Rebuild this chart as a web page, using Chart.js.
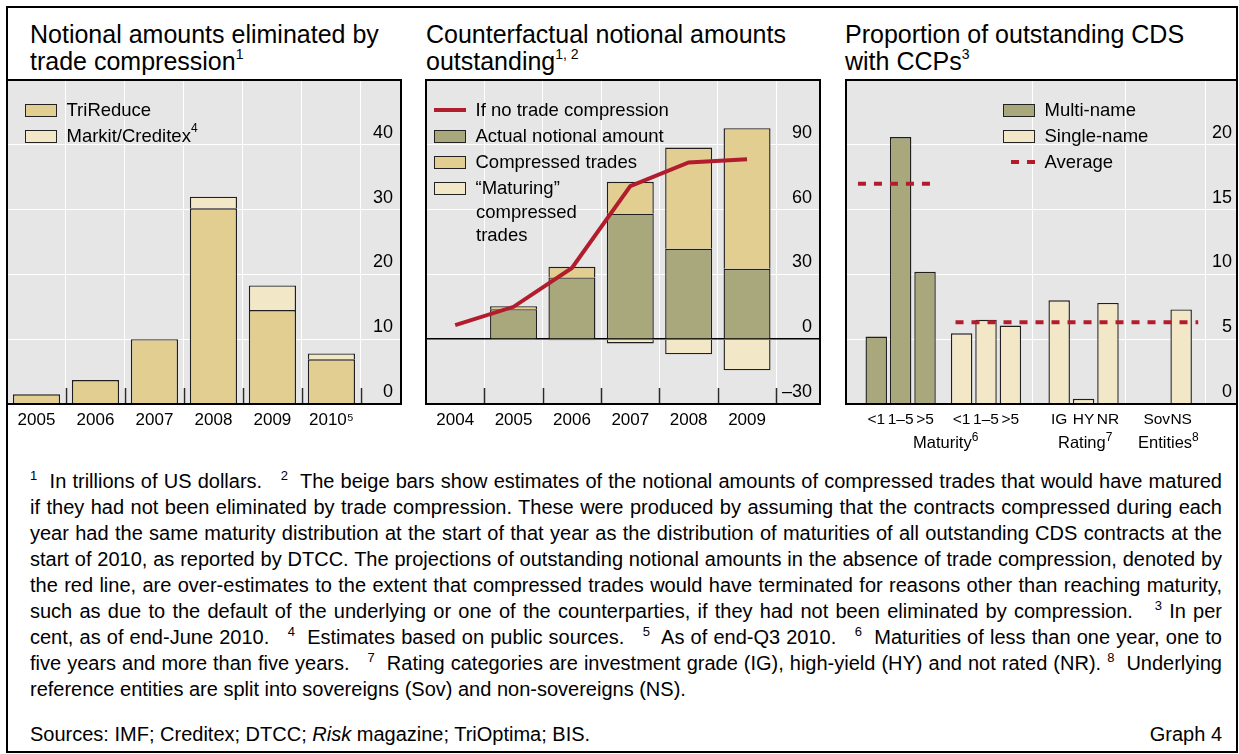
<!DOCTYPE html>
<html lang="en">
<head>
<meta charset="utf-8">
<title>Graph 4</title>
<script src="https://cdn.jsdelivr.net/npm/chart.js@4.4.1/dist/chart.umd.min.js"></script>
<style>
  html, body { margin: 0; padding: 0; background: #fff; }
  body { position: relative; width: 1239px; height: 754px; overflow: hidden;
         font-family: "Liberation Sans", Arial, Helvetica, sans-serif; color: #000; }
  .abs { position: absolute; }
  .frame { left: 6px; top: 6px; width: 1232px; height: 747px; border: 2px solid #000; box-sizing: border-box; }
  .title { top: 21px; font-size: 25px; line-height: 27px; white-space: nowrap; }
  .tsup { position: relative; top: -11px; font-size: 14px; line-height: 0; }
  canvas { position: absolute; top: 80px; }
  .box { top: 79px; height: 326px; border: 2px solid #000; box-sizing: border-box; pointer-events: none; }
  .leg { height: 22px; line-height: 22px; font-size: 18.5px; white-space: nowrap; display: flex; align-items: center; }
  .sw { flex: none; width: 32px; height: 13px; border: 1.5px solid #222; box-sizing: border-box; margin-right: 9.5px; }
  .redline { flex: none; width: 32px; height: 4px; background: #b21d2e; margin-right: 9.5px; }
  .dash { flex: none; width: 32px; height: 4px; margin-right: 9.5px; position: relative; }
  .dash i { position: absolute; top: 0; width: 8px; height: 4px; background: #b21d2e; }
  .lsup { position: relative; top: -8px; font-size: 12px; line-height: 0; }
  .glab { top: 432px; font-size: 16.5px; line-height: 20px; white-space: nowrap; }
  .gsup { position: relative; top: -7px; font-size: 12px; line-height: 0; }
  .notes { left: 30px; top: 468px; width: 1192px; font-size: 20px; line-height: 26px; }
  .notes div { text-align: justify; text-align-last: justify; white-space: nowrap; }
  .notes div.last { text-align-last: left; }
  .fsup { position: relative; top: -8px; font-size: 13px; line-height: 0; }
  .src { left: 30px; top: 721px; width: 1192px; font-size: 20px; line-height: 26px; white-space: nowrap; }
  .src span.r { position: absolute; right: 0; top: 0; }
</style>
</head>
<body>
<div class="abs frame"></div>

<div class="abs title" style="left:30px">Notional amounts eliminated by<br>trade compression<span class="tsup">1</span></div>
<div class="abs title" style="left:426px">Counterfactual notional amounts<br>outstanding<span class="tsup">1, 2</span></div>
<div class="abs title" style="left:845px">Proportion of outstanding CDS<br>with CCPs<span class="tsup">3</span></div>

<canvas id="compression" width="394" height="354" style="left:7px"></canvas>
<canvas id="outstanding" width="394" height="354" style="left:426px"></canvas>
<canvas id="ccp" width="391" height="354" style="left:846px"></canvas>

<div class="abs box" style="left:6px;width:396px"></div>
<div class="abs box" style="left:425px;width:396px"></div>
<div class="abs box" style="left:845px;width:393px"></div>

<!-- legends -->
<div class="abs leg" style="left:25px;top:99px"><span class="sw" style="background:#e3ce92"></span>TriReduce</div>
<div class="abs leg" style="left:25px;top:125px"><span class="sw" style="background:#f2e8c7"></span>Markit/Creditex<span class="lsup">4</span></div>

<div class="abs leg" style="left:434px;top:99px"><span class="redline"></span>If no trade compression</div>
<div class="abs leg" style="left:434px;top:125px"><span class="sw" style="background:#a9a87c"></span>Actual notional amount</div>
<div class="abs leg" style="left:434px;top:151px"><span class="sw" style="background:#e3ce92"></span>Compressed trades</div>
<div class="abs leg" style="left:434px;top:177px"><span class="sw" style="background:#f2e8c7"></span>“Maturing”</div>
<div class="abs leg" style="left:476px;top:201px">compressed</div>
<div class="abs leg" style="left:476px;top:224px">trades</div>

<div class="abs leg" style="left:1003px;top:99px"><span class="sw" style="background:#a9a87c"></span>Multi-name</div>
<div class="abs leg" style="left:1003px;top:125px"><span class="sw" style="background:#f2e8c7"></span>Single-name</div>
<div class="abs leg" style="left:1003px;top:151px"><span class="dash"><i style="left:8px"></i><i style="left:24px"></i></span>Average</div>

<!-- group captions under the CCP chart -->
<div class="abs glab" style="left:913px">Maturity<span class="gsup">6</span></div>
<div class="abs glab" style="left:1058px">Rating<span class="gsup">7</span></div>
<div class="abs glab" style="left:1138px">Entities<span class="gsup">8</span></div>

<div class="abs notes">
  <div><span class="fsup">1</span>&nbsp; In trillions of US dollars.&nbsp;&nbsp; <span class="fsup">2</span>&nbsp; The beige bars show estimates of the notional amounts of compressed trades that would have matured</div>
  <div>if they had not been eliminated by trade compression. These were produced by assuming that the contracts compressed during each</div>
  <div>year had the same maturity distribution at the start of that year as the distribution of maturities of all outstanding CDS contracts at the</div>
  <div>start of 2010, as reported by DTCC. The projections of outstanding notional amounts in the absence of trade compression, denoted by</div>
  <div>the red line, are over-estimates to the extent that compressed trades would have terminated for reasons other than reaching maturity,</div>
  <div>such as due to the default of the underlying or one of the counterparties, if they had not been eliminated by compression.&nbsp;&nbsp; <span class="fsup">3</span> In per</div>
  <div>cent, as of end-June 2010.&nbsp;&nbsp; <span class="fsup">4</span>&nbsp; Estimates based on public sources.&nbsp;&nbsp; <span class="fsup">5</span>&nbsp; As of end-Q3 2010.&nbsp;&nbsp; <span class="fsup">6</span>&nbsp; Maturities of less than one year, one to</div>
  <div>five years and more than five years.&nbsp;&nbsp; <span class="fsup">7</span>&nbsp; Rating categories are investment grade (IG), high-yield (HY) and not rated (NR). <span class="fsup">8</span>&nbsp; Underlying</div>
  <div class="last">reference entities are split into sovereigns (Sov) and non-sovereigns (NS).</div>
</div>
<div class="abs src">Sources: IMF; Creditex; DTCC; <i>Risk</i> magazine; TriOptima; BIS.<span class="r">Graph 4</span></div>

<script>
// ---- Notional amounts eliminated by trade compression (USD trn) ----
const compressionYears = ['2005', '2006', '2007', '2008', '2009', '2010\u2075'];
const triReduce        = [1.5, 3.7, 10.0, 30.2, 14.5, 6.9];
const markitCreditex   = [null, null, null, 1.8, 3.8, 0.9];
const compressionTicks = [0, 10, 20, 30, 40];

// ---- Counterfactual notional amounts outstanding (USD trn) ----
const outstandingYears = ['2004', '2005', '2006', '2007', '2008', '2009'];
const noCompression    = [6.5, 15.0, 33.0, 70.9, 81.8, 83.3];
const actualNotional   = [null, 13.9, 28.6, 58.1, 41.9, 32.6];
const compressedTrades = [null, 1.4, 4.9, 14.8, 46.8, 65.1];
const maturingTrades   = [null, -0.2, -0.5, -2.0, -7.0, -14.4];
const outstandingTicks = [-30, 0, 30, 60, 90];

// ---- Proportion of outstanding CDS with CCPs (per cent) ----
const ccpLabels     = ['<1', '1\u20135', '>5', '<1', '1\u20135', '>5', 'IG', 'HY', 'NR', 'Sov', 'NS'];
const multiName     = [5.2, 20.6, 10.2, null, null, null, null, null, null, null, null];
const singleName    = [null, null, null, 5.45, 6.5, 6.05, 8.0, 0.4, 7.8, null, 7.3];
const multiAverage  = 17.0;
const singleAverage = 6.3;
const ccpTicks      = [0, 5, 10, 15, 20];

// ---- layout of the CCP panel: bar slots (in bar pitches) and group separators ----
const ccpSlots       = [0, 1, 2, 3.5, 4.5, 5.5, 7.5, 8.5, 9.5, 11.5, 12.5];
const ccpGroupBounds = [6.4, 10.2, 13.5];
const multiAvgSpan   = [-0.75, 2.25];
const singleAvgSpan  = [3.25, 13.2];

// ---- styling ----
const FONT = '"Liberation Sans", Arial, Helvetica, sans-serif';
const GREEN = '#a9a87c', BEIGE = '#e3ce92', LIGHT = '#f2e8c7', RED = '#b21d2e', EDGE = '#1f1f1f';

const points = (xs, ys) => ys.map((y, i) => ({ x: xs[i], y })).filter(p => p.y !== null);
const indexes = arr => arr.map((_, i) => i);
const noPad = s => { s.paddingLeft = s.paddingRight = s.paddingTop = s.paddingBottom = 0; };

const plotBackground = {
  id: 'plotBackground',
  beforeDraw(chart) {
    const { ctx, chartArea: a } = chart;
    ctx.save();
    ctx.fillStyle = '#e6e6e6';
    ctx.fillRect(a.left, a.top, a.right - a.left, a.bottom - a.top);
    ctx.restore();
  }
};

// short dark marks rising from the base at every separator of the 'xg' scale
const baseMarks = {
  id: 'baseMarks',
  afterDatasetsDraw(chart, args, opts) {
    if (!opts.length) return;
    const scale = chart.scales.xg;
    const { ctx, chartArea: a } = chart;
    ctx.save();
    ctx.strokeStyle = opts.color;
    ctx.lineWidth = 1.5;
    ctx.beginPath();
    scale.ticks.forEach(t => {
      const x = Math.round(scale.getPixelForValue(t.value)) + 0.5;
      ctx.moveTo(x, a.bottom);
      ctx.lineTo(x, a.bottom - opts.length);
    });
    ctx.stroke();
    ctx.restore();
  }
};

// vertical separators drawn as white grid lines
function separatorAxis(min, max, bounds) {
  return {
    type: 'linear', position: 'bottom', min, max, offset: false,
    afterBuildTicks: s => { s.ticks = bounds.map(v => ({ value: v })); },
    afterFit: s => { s.height = 0; noPad(s); },
    grid: { offset: false, color: '#fff', lineWidth: 1, drawTicks: false },
    border: { display: false },
    ticks: { display: false }
  };
}

function labelAxis(min, max, positions, labels, size) {
  return {
    type: 'linear', position: 'bottom', min, max, stacked: true, offset: false,
    afterBuildTicks: s => { s.ticks = positions.map(v => ({ value: v })); },
    afterFit: s => { s.height = 30; noPad(s); },
    grid: { display: false, drawTicks: false, offset: false },
    border: { display: false },
    ticks: { autoSkip: false, maxRotation: 0, minRotation: 0, padding: 6, color: '#000',
             font: { family: FONT, size }, callback: (v, i) => labels[i] }
  };
}

// value axis on the right, labels drawn inside the plot just above each grid line
function valueAxis(min, max, ticks, stacked, inset, extraGrid) {
  return {
    type: 'linear', position: 'right', min, max, stacked,
    afterBuildTicks: s => { s.ticks = ticks.map(v => ({ value: v })); },
    afterFit: s => { s.width = 0; noPad(s); },
    grid: Object.assign({ color: '#fff', lineWidth: 1, drawTicks: false }, extraGrid || {}),
    border: { display: false },
    ticks: { mirror: true, padding: -inset, labelOffset: -12, color: '#000', font: { family: FONT, size: 18 },
             callback: v => (v < 0 ? '\u2013' + Math.abs(v) : String(v)) }
  };
}

const baseOptions = markLength => ({
  responsive: false, animation: false, devicePixelRatio: 1, events: [],
  layout: { padding: 0 },
  plugins: { legend: { display: false }, tooltip: { enabled: false }, title: { display: false },
             baseMarks: { length: markLength, color: '#2a2a2a' } }
});

const barStyle = (color, pct) => ({
  type: 'bar', xAxisID: 'x', yAxisID: 'y', order: 1, backgroundColor: color,
  borderColor: EDGE, borderWidth: 1.4, categoryPercentage: 1, barPercentage: pct
});

// ---- chart 1 ----
{
  const xs = indexes(compressionYears);
  const opts = baseOptions(16);
  opts.scales = {
    xg: separatorAxis(-0.5, 6.18, [0.5, 1.5, 2.5, 3.5, 4.5, 5.5]),
    x: labelAxis(-0.5, 6.18, xs, compressionYears, 17),
    y: valueAxis(0, 50, compressionTicks, true, 8)
  };
  new Chart(document.getElementById('compression'), {
    type: 'bar',
    data: { datasets: [
      Object.assign(barStyle(BEIGE, 0.8), { label: 'TriReduce', data: points(xs, triReduce) }),
      Object.assign(barStyle(LIGHT, 0.8), { label: 'Markit/Creditex', data: points(xs, markitCreditex) })
    ] },
    options: opts,
    plugins: [plotBackground, baseMarks]
  });
}

// ---- chart 2 ----
{
  const xs = indexes(outstandingYears);
  const opts = baseOptions(16);
  opts.scales = {
    xg: separatorAxis(-0.5, 6.25, [0.5, 1.5, 2.5, 3.5, 4.5, 5.5]),
    x: labelAxis(-0.5, 6.25, xs, outstandingYears, 17),
    y: valueAxis(-30, 120, outstandingTicks, true, 8, {
      color: c => (c.tick && c.tick.value === 0 ? '#000' : '#fff'),
      lineWidth: c => (c.tick && c.tick.value === 0 ? 1.5 : 1)
    })
  };
  new Chart(document.getElementById('outstanding'), {
    type: 'bar',
    data: { datasets: [
      { type: 'line', label: 'If no trade compression', xAxisID: 'x', yAxisID: 'y', stack: 'projection', order: 0,
        data: points(xs, noCompression), borderColor: RED, borderWidth: 4, pointRadius: 0, tension: 0, fill: false },
      Object.assign(barStyle(GREEN, 0.805), { label: 'Actual notional amount', data: points(xs, actualNotional) }),
      Object.assign(barStyle(BEIGE, 0.805), { label: 'Compressed trades', data: points(xs, compressedTrades) }),
      Object.assign(barStyle(LIGHT, 0.805), { label: '“Maturing” compressed trades', data: points(xs, maturingTrades) })
    ] },
    options: opts,
    plugins: [plotBackground, baseMarks]
  });
}

// ---- chart 3 ----
{
  const opts = baseOptions(0);
  opts.scales = {
    xg: separatorAxis(-1.24, 14.79, ccpGroupBounds),
    x: labelAxis(-1.24, 14.79, ccpSlots, ccpLabels, 15.5),
    y: valueAxis(0, 25, ccpTicks, false, 5)
  };
  const avgLine = (label, span, value) => ({
    type: 'line', label, xAxisID: 'x', yAxisID: 'y', order: 0,
    data: span.map(x => ({ x, y: value })),
    borderColor: RED, borderWidth: 4, borderDash: [8, 8], pointRadius: 0, fill: false
  });
  new Chart(document.getElementById('ccp'), {
    type: 'bar',
    data: { datasets: [
      Object.assign(barStyle(GREEN, 0.88), { label: 'Multi-name', data: points(ccpSlots, multiName) }),
      Object.assign(barStyle(LIGHT, 0.88), { label: 'Single-name', data: points(ccpSlots, singleName) }),
      avgLine('Average (multi-name)', multiAvgSpan, multiAverage),
      avgLine('Average (single-name)', singleAvgSpan, singleAverage)
    ] },
    options: opts,
    plugins: [plotBackground, baseMarks]
  });
}
</script>
</body>
</html>
